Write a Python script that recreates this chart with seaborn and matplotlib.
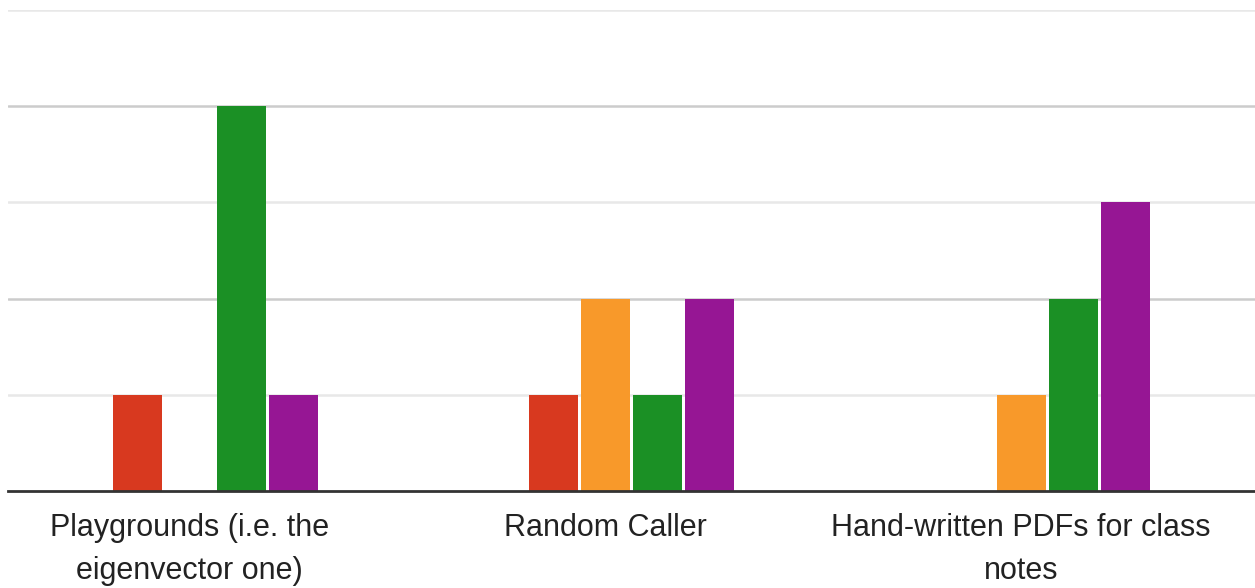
import matplotlib
matplotlib.use("Agg")
import matplotlib.pyplot as plt
import matplotlib.transforms as mtransforms
import seaborn as sns
import pandas as pd

categories = [
    "Playgrounds (i.e. the\neigenvector one)",
    "Random Caller",
    "Hand-written PDFs for class\nnotes",
]
options = ["1", "2", "3", "4"]
counts_1 = [1, 1, 0]
counts_2 = [0, 2, 1]
counts_3 = [4, 1, 2]
counts_4 = [1, 2, 3]
colors = ["#d8391f", "#f8992a", "#1b9025", "#961694"]

rows = []
for opt, vals in zip(options, [counts_1, counts_2, counts_3, counts_4]):
    for cat, v in zip(categories, vals):
        rows.append({"category": cat, "option": opt, "count": v})
df = pd.DataFrame(rows)

sns.set_theme(style="white")
plt.rcParams["font.family"] = ["Liberation Sans", "DejaVu Sans"]

fig = plt.figure(figsize=(12.55, 5.88), dpi=100)
ax = fig.add_axes([8 / 1255, 1 - 491 / 588, 1 - 8 / 1255, 481 / 588])

sns.barplot(
    data=df, x="category", y="count", hue="option",
    order=categories, hue_order=options, palette=colors,
    width=0.5, gap=0.06, linewidth=0, saturation=1, ax=ax, legend=False,
)

ax.set_ylim(0, 5)
ax.set_xlim(-0.5, 2.5)
for y in [1, 3, 5]:
    ax.axhline(y, color="#e8e8e8", lw=1.8, zorder=0)
for y in [2, 4]:
    ax.axhline(y, color="#cccccc", lw=1.8, zorder=0)

ax.set_yticks([])
ax.set_xlabel("")
ax.set_ylabel("")
for s in ["top", "left", "right"]:
    ax.spines[s].set_visible(False)
ax.spines["bottom"].set_color("#333333")
ax.spines["bottom"].set_linewidth(2)
ax.spines["bottom"].set_zorder(5)
ax.tick_params(axis="x", length=0, pad=16, labelsize=22, labelcolor="#222222")
shift = mtransforms.ScaledTranslation(-26 / 100, 0, fig.dpi_scale_trans)
for lbl in ax.get_xticklabels():
    lbl.set_linespacing(1.55)
    lbl.set_transform(lbl.get_transform() + shift)

fig.savefig("out.png", dpi=100)
